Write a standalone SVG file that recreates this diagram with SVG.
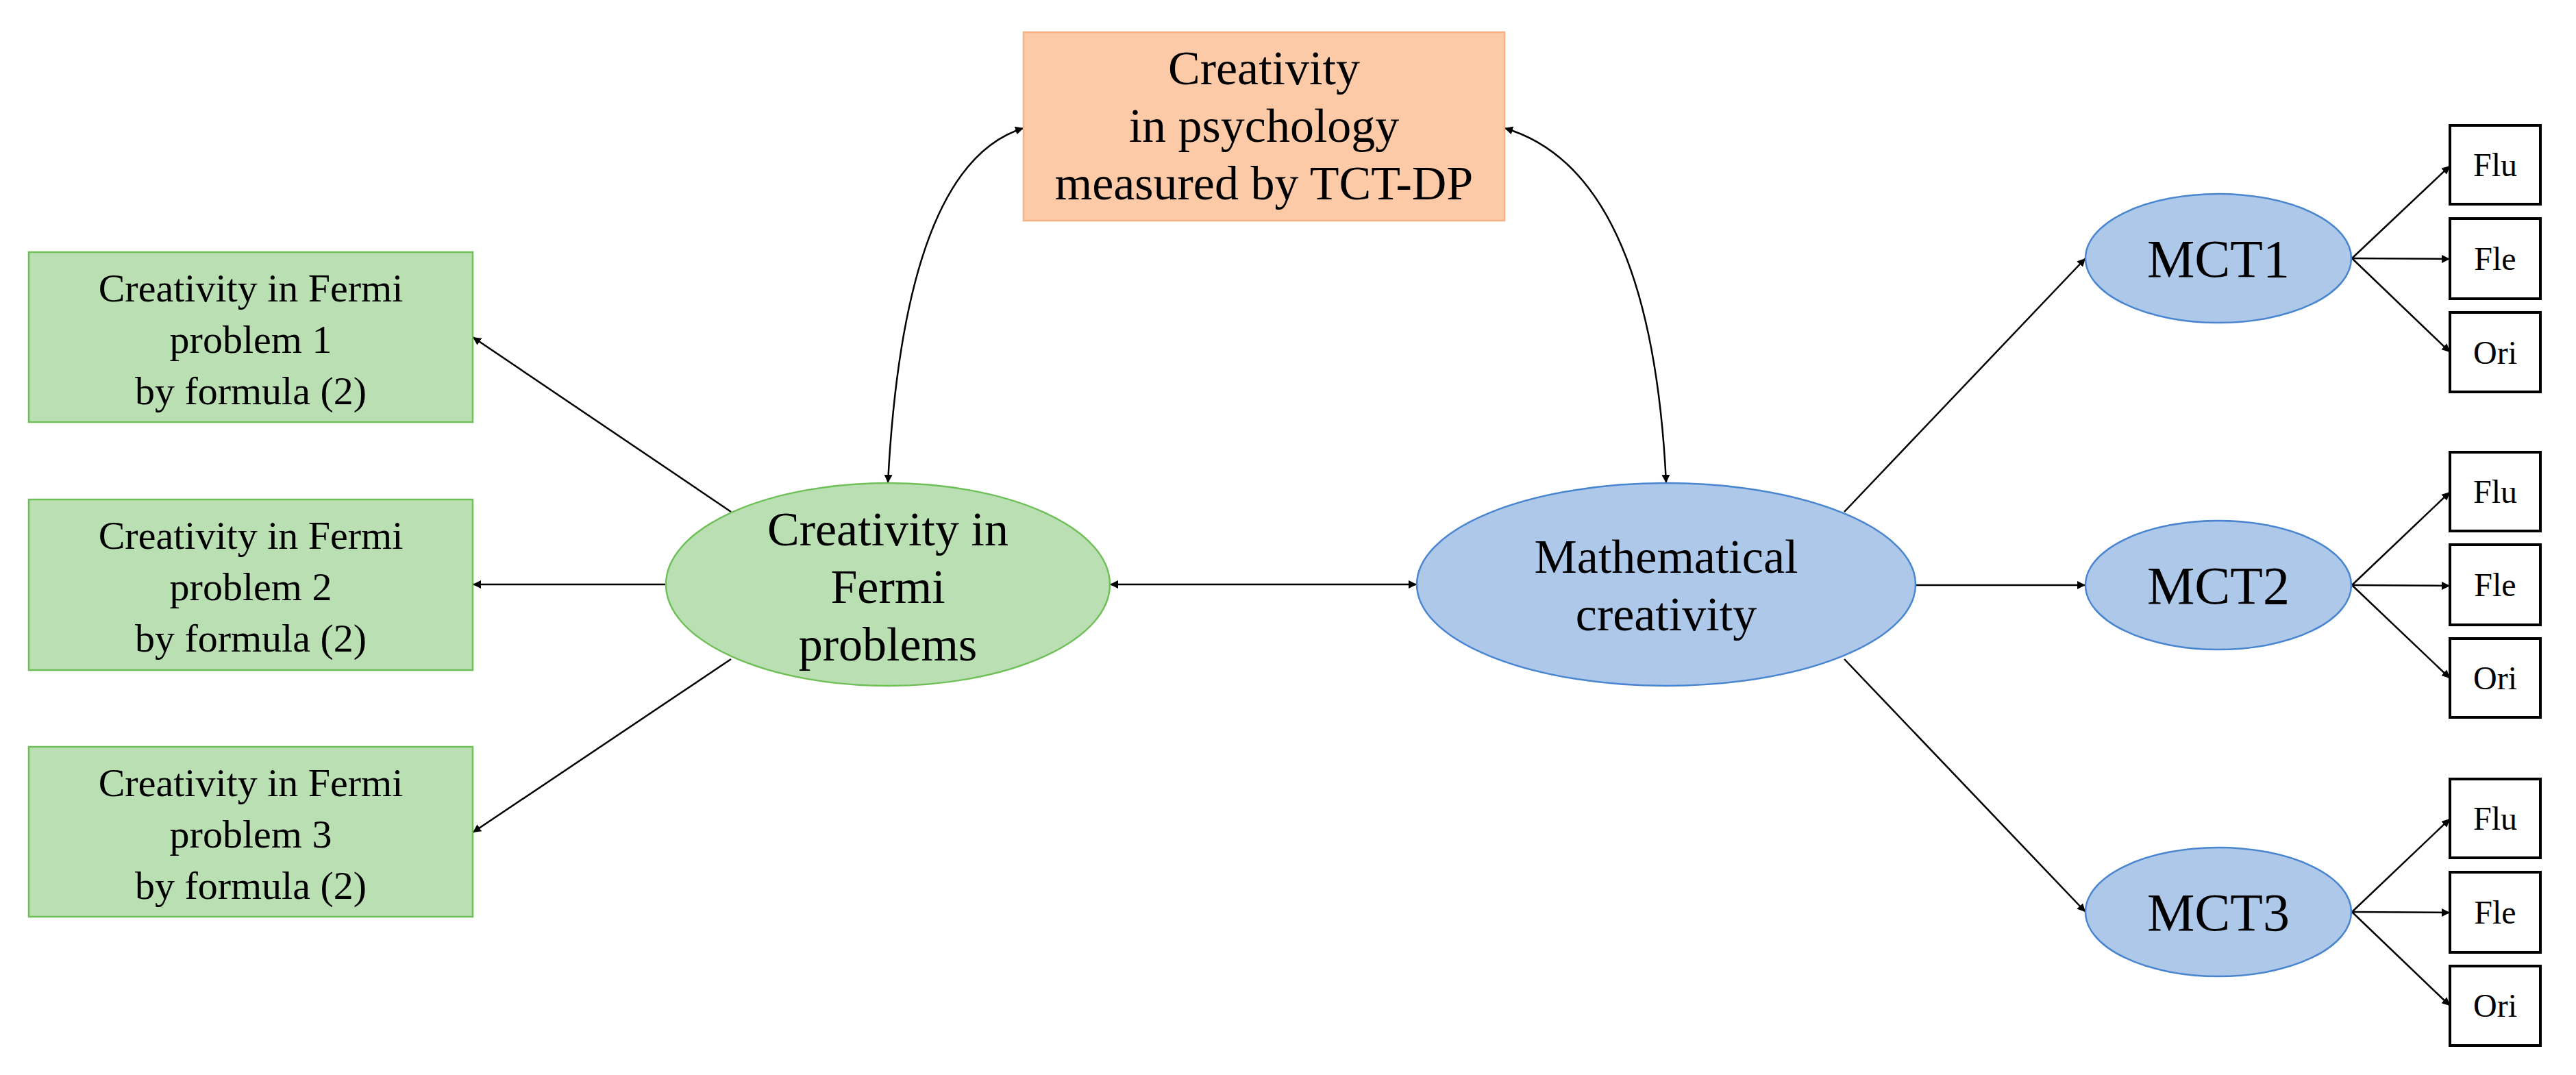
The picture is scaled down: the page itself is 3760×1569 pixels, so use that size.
<svg xmlns="http://www.w3.org/2000/svg" width="3760" height="1569" viewBox="0 0 3760 1569">
<style>
text{font-family:"Liberation Serif","Times New Roman",serif;fill:#000;text-anchor:middle}
.g{fill:#badfb3;stroke:#70c05a;stroke-width:2.5}
.o{fill:#fdcaa8;stroke:#f4b183;stroke-width:2.5}
.b{fill:#aec8ea;stroke:#4a86d0;stroke-width:2.5}
.w{fill:#fff;stroke:#000;stroke-width:4}
.c{fill:none;stroke:#000;stroke-width:2.5}
.t1{font-size:58px}.t2{font-size:70px}.t3{font-size:78px}.t4{font-size:48px}
</style>
<defs>
<marker id="a" viewBox="0 0 10 10" refX="10" refY="5" markerWidth="12" markerHeight="12" markerUnits="userSpaceOnUse" orient="auto-start-reverse">
<path d="M0,0L10,5L0,10z" fill="#000"/>
</marker>
</defs>
<rect width="3760" height="1569" fill="#fff"/>
<g id="connectors" class="c" marker-end="url(#a)">
<line x1="1067" y1="747" x2="690" y2="492" marker-end="url(#a)"/>
<line x1="973" y1="853" x2="690" y2="853" marker-end="url(#a)"/>
<line x1="1067" y1="962" x2="690" y2="1215" marker-end="url(#a)"/>
<line x1="1620" y1="853" x2="2068" y2="853" marker-start="url(#a)" marker-end="url(#a)"/>
<path d="M1296,705 Q1320,240 1494,187" marker-start="url(#a)" marker-end="url(#a)"/>
<path d="M2432,705 Q2410,250 2196,187" marker-start="url(#a)" marker-end="url(#a)"/>
<line x1="2692" y1="747" x2="3044" y2="377" marker-end="url(#a)"/>
<line x1="2797" y1="854" x2="3044" y2="854" marker-end="url(#a)"/>
<line x1="2692" y1="962" x2="3044" y2="1331" marker-end="url(#a)"/>
<line x1="3433" y1="377" x2="3576" y2="242" marker-end="url(#a)"/>
<line x1="3433" y1="377" x2="3576" y2="378" marker-end="url(#a)"/>
<line x1="3433" y1="377" x2="3576" y2="514" marker-end="url(#a)"/>
<line x1="3433" y1="854" x2="3576" y2="718" marker-end="url(#a)"/>
<line x1="3433" y1="854" x2="3576" y2="855" marker-end="url(#a)"/>
<line x1="3433" y1="854" x2="3576" y2="990" marker-end="url(#a)"/>
<line x1="3433" y1="1331" x2="3576" y2="1195" marker-end="url(#a)"/>
<line x1="3433" y1="1331" x2="3576" y2="1332" marker-end="url(#a)"/>
<line x1="3433" y1="1331" x2="3576" y2="1468" marker-end="url(#a)"/>
</g>
<g id="fp1"><rect class="g" x="42" y="368" width="648" height="248"/><text class="t1"><tspan x="366" y="440">Creativity in Fermi</tspan><tspan x="366" y="515">problem 1</tspan><tspan x="366" y="590">by formula (2)</tspan></text></g>
<g id="fp2"><rect class="g" x="42" y="729" width="648" height="249"/><text class="t1"><tspan x="366" y="801">Creativity in Fermi</tspan><tspan x="366" y="876">problem 2</tspan><tspan x="366" y="951">by formula (2)</tspan></text></g>
<g id="fp3"><rect class="g" x="42" y="1090" width="648" height="248"/><text class="t1"><tspan x="366" y="1162">Creativity in Fermi</tspan><tspan x="366" y="1237">problem 3</tspan><tspan x="366" y="1312">by formula (2)</tspan></text></g>
<g id="psy"><rect class="o" x="1494" y="47" width="702" height="275"/><text class="t2"><tspan x="1845" y="123">Creativity</tspan><tspan x="1845" y="207">in psychology</tspan><tspan x="1845" y="291">measured by TCT-DP</tspan></text></g>
<g id="fermi"><ellipse class="g" cx="1296" cy="853" rx="324" ry="148"/><text class="t2"><tspan x="1296" y="796">Creativity in</tspan><tspan x="1296" y="880">Fermi</tspan><tspan x="1296" y="964">problems</tspan></text></g>
<g id="math"><ellipse class="b" cx="2432" cy="853" rx="364" ry="148"/><text class="t2"><tspan x="2432" y="836">Mathematical</tspan><tspan x="2432" y="920">creativity</tspan></text></g>
<g id="mct1"><ellipse class="b" cx="3238" cy="377" rx="194" ry="94"/><text class="t3" x="3238" y="404">MCT1</text></g>
<g id="mct2"><ellipse class="b" cx="3238" cy="854" rx="194" ry="94"/><text class="t3" x="3238" y="881">MCT2</text></g>
<g id="mct3"><ellipse class="b" cx="3238" cy="1331" rx="194" ry="94"/><text class="t3" x="3238" y="1358">MCT3</text></g>
<g id="flu1"><rect class="w" x="3576" y="183" width="132" height="115"/><text class="t4" x="3642" y="257">Flu</text></g>
<g id="fle1"><rect class="w" x="3576" y="319" width="132" height="117"/><text class="t4" x="3642" y="394">Fle</text></g>
<g id="ori1"><rect class="w" x="3576" y="456" width="132" height="116"/><text class="t4" x="3642" y="531">Ori</text></g>
<g id="flu2"><rect class="w" x="3576" y="660" width="132" height="115"/><text class="t4" x="3642" y="734">Flu</text></g>
<g id="fle2"><rect class="w" x="3576" y="795" width="132" height="117"/><text class="t4" x="3642" y="870">Fle</text></g>
<g id="ori2"><rect class="w" x="3576" y="932" width="132" height="115"/><text class="t4" x="3642" y="1006">Ori</text></g>
<g id="flu3"><rect class="w" x="3576" y="1137" width="132" height="115"/><text class="t4" x="3642" y="1211">Flu</text></g>
<g id="fle3"><rect class="w" x="3576" y="1273" width="132" height="117"/><text class="t4" x="3642" y="1348">Fle</text></g>
<g id="ori3"><rect class="w" x="3576" y="1410" width="132" height="116"/><text class="t4" x="3642" y="1484">Ori</text></g>
</svg>
